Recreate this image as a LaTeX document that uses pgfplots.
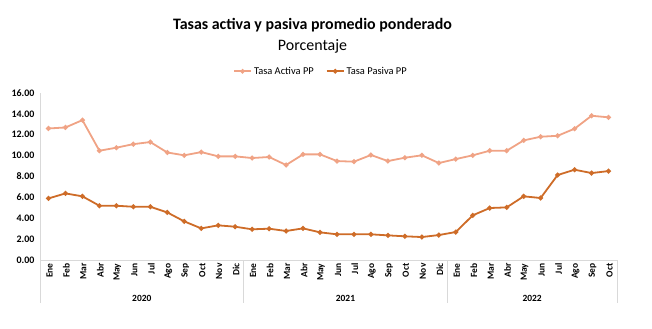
\documentclass[border=0pt]{standalone}
\usepackage{pgfplots}
\pgfplotsset{compat=1.18}
\usepackage{fontspec}
\setmainfont{Carlito}
\definecolor{activa}{RGB}{240,163,133}
\definecolor{pasiva}{RGB}{206,108,40}
\definecolor{axgray}{RGB}{217,217,217}
\begin{document}
\begin{tikzpicture}[x=1bp,y=1bp]
\useasboundingbox (0,0) rectangle (652,328);
\node[font=\bfseries\fontsize{16}{18}\selectfont] at (312.5,303) {Tasas activa y pasiva promedio ponderado};
\node[font=\fontsize{16}{18}\selectfont] at (312.5,282) {Porcentaje};
\begin{axis}[
  at={(40bp,68bp)}, anchor=south west,
  scale only axis, width=577bp, height=167bp,
  xmin=-0.5, xmax=33.5, ymin=0, ymax=16,
  ytick={0,2,...,16},
  yticklabel style={font=\bfseries\fontsize{10}{12}\selectfont, /pgf/number format/fixed, /pgf/number format/fixed zerofill, /pgf/number format/precision=2, xshift=-2bp},
  /pgf/number format/assume math mode=true,
  xtick={0,...,33},
  xticklabels={Ene,Feb,Mar,Abr,May,Jun,Jul,Ago,Sep,Oct,Nov,Dic,Ene,Feb,Mar,Abr,May,Jun,Jul,Ago,Sep,Oct,Nov,Dic,Ene,Feb,Mar,Abr,May,Jun,Jul,Ago,Sep,Oct},
  xticklabel style={font=\bfseries\fontsize{9.5}{11}\selectfont, rotate=90, anchor=east, yshift=-1bp},
  major tick length=0pt,
  axis x line*=bottom, axis y line*=left,
  axis line style={axgray, line width=0.7bp},
  y axis line style={draw=none},
  clip=false,
  legend style={at={(0.487,1.13)}, anchor=center, draw=none, fill=none, legend columns=2, font=\fontsize{10.5}{12}\selectfont, /tikz/every even column/.append style={column sep=10bp}, inner sep=0pt},
  legend image post style={mark size=1.3bp},
  legend cell align=left,
]
\addplot[activa, line width=1.8bp, mark=*, mark size=1.5bp] coordinates {
(0,12.6)(1,12.7)(2,13.4)(3,10.47)(4,10.76)(5,11.1)(6,11.3)(7,10.3)(8,10.03)(9,10.34)(10,9.93)(11,9.93)
(12,9.77)(13,9.87)(14,9.1)(15,10.12)(16,10.12)(17,9.48)(18,9.42)(19,10.06)(20,9.48)(21,9.8)(22,10.03)(23,9.29)
(24,9.67)(25,10.03)(26,10.47)(27,10.47)(28,11.46)(29,11.81)(30,11.9)(31,12.58)(32,13.82)(33,13.67)};
\addlegendentry{Tasa Activa PP}
\addplot[pasiva, line width=1.8bp, mark=*, mark size=1.5bp] coordinates {
(0,5.9)(1,6.38)(2,6.1)(3,5.2)(4,5.2)(5,5.1)(6,5.1)(7,4.56)(8,3.7)(9,3.03)(10,3.32)(11,3.19)
(12,2.94)(13,3.0)(14,2.78)(15,3.03)(16,2.65)(17,2.46)(18,2.46)(19,2.46)(20,2.36)(21,2.27)(22,2.2)(23,2.39)
(24,2.68)(25,4.28)(26,4.98)(27,5.04)(28,6.1)(29,5.94)(30,8.14)(31,8.65)(32,8.33)(33,8.52)};
\addlegendentry{Tasa Pasiva PP}
\draw[axgray, line width=0.7bp] (axis cs:-0.5,16) -- ([yshift=-43bp]axis cs:-0.5,0);
\draw[axgray, line width=0.7bp] (axis cs:11.5,0) -- ([yshift=-43bp]axis cs:11.5,0);
\draw[axgray, line width=0.7bp] (axis cs:23.5,0) -- ([yshift=-43bp]axis cs:23.5,0);
\draw[axgray, line width=0.7bp] (axis cs:33.5,0) -- ([yshift=-43bp]axis cs:33.5,0);
\node[font=\bfseries\fontsize{9.5}{11}\selectfont] at ([yshift=-38bp]axis cs:5.5,0) {2020};
\node[font=\bfseries\fontsize{9.5}{11}\selectfont] at ([yshift=-38bp]axis cs:17.5,0) {2021};
\node[font=\bfseries\fontsize{9.5}{11}\selectfont] at ([yshift=-38bp]axis cs:28.5,0) {2022};
\end{axis}
\end{tikzpicture}
\end{document}
